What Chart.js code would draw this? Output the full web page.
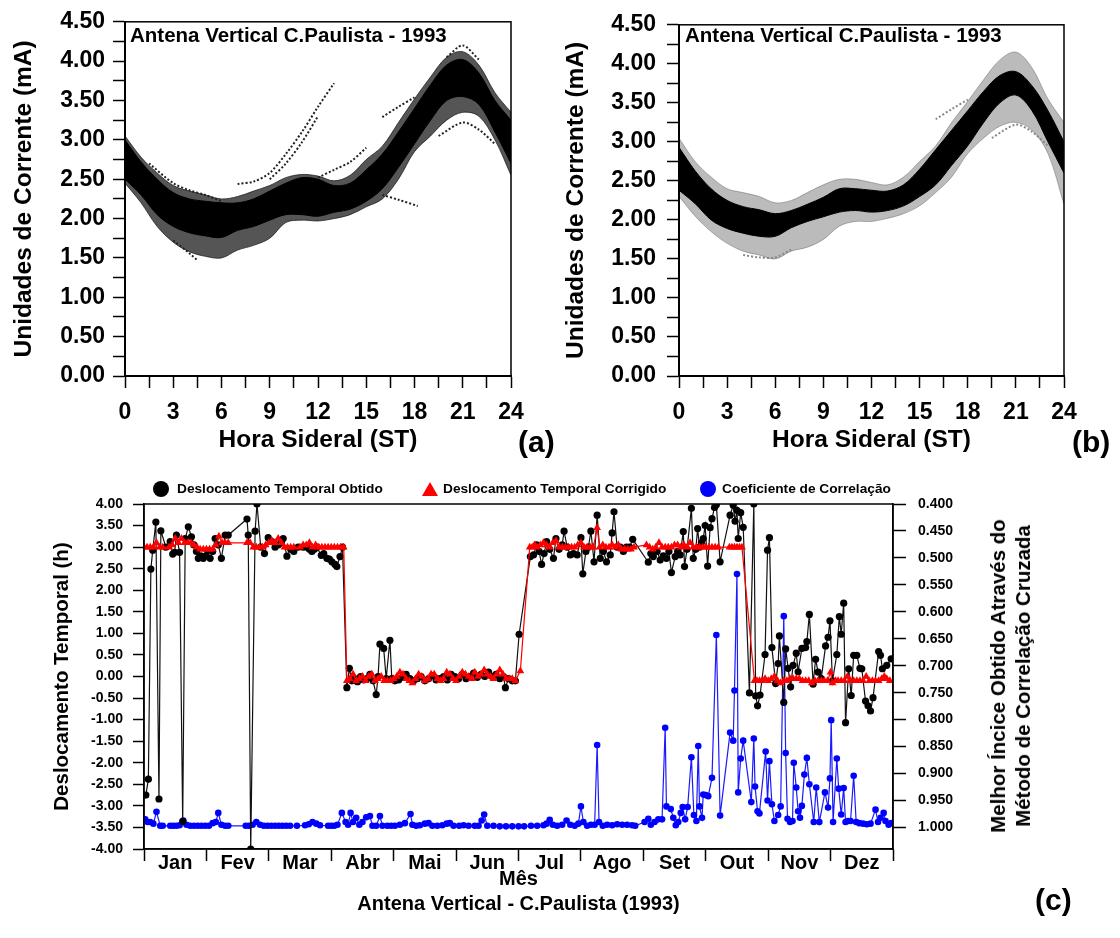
<!DOCTYPE html>
<html>
<head>
<meta charset="utf-8">
<title>Antena Vertical C.Paulista - 1993</title>
<script src="https://cdn.jsdelivr.net/npm/chart.js@4.4.0/dist/chart.umd.min.js"></script>
<style>
  body { margin: 0; background: #fff; }
  #page { position: relative; width: 1120px; height: 938px; overflow: hidden; font-family: "Liberation Sans", Arial, sans-serif; font-weight: bold; color: #000; }
  canvas { position: absolute; }
  .txt { position: absolute; white-space: nowrap; }
  .tag { font-size: 30px; }
  .inner { font-size: 20.5px; }
  .leg { font-size: 13.7px; line-height: 16px; }
  .dot { position: absolute; width: 16px; height: 16px; border-radius: 50%; }
  .tri { position: absolute; width: 0; height: 0; border-left: 8px solid transparent; border-right: 8px solid transparent; border-bottom: 14px solid #ff0000; }
  #rtitle { position: absolute; left: 1010px; top: 676px; transform: translate(-50%, -50%) rotate(-90deg); font-size: 20.5px; line-height: 25px; text-align: center; white-space: nowrap; }
</style>
</head>
<body>
<div id="page">
  <canvas id="chartA" width="560" height="470" style="left:0;top:0"></canvas>
  <canvas id="chartB" width="560" height="470" style="left:560px;top:0"></canvas>
  <canvas id="chartC" width="1120" height="468" style="left:0;top:470px"></canvas>

  <div class="txt inner" style="left:130px;top:23px">Antena Vertical C.Paulista - 1993</div>
  <div class="txt inner" style="left:685px;top:23px">Antena Vertical C.Paulista - 1993</div>
  <div class="txt tag" style="left:518px;top:425px">(a)</div>
  <div class="txt tag" style="left:1072px;top:425px">(b)</div>
  <div class="txt tag" style="left:1035px;top:883px">(c)</div>

  <div class="dot" style="left:153px;top:481px;background:#000"></div>
  <div class="txt leg" style="left:177px;top:481px">Deslocamento Temporal Obtido</div>
  <div class="tri" style="left:422px;top:482px"></div>
  <div class="txt leg" style="left:443px;top:481px">Deslocamento Temporal Corrigido</div>
  <div class="dot" style="left:700px;top:481px;background:#0000ff"></div>
  <div class="txt leg" style="left:722px;top:481px">Coeficiente de Correlação</div>

  <div id="rtitle">Melhor Íncice Obtido Através do<br>Método de Correlação Cruzada</div>
</div>

<script>
// ---------- panels (a) and (b): current vs sidereal hour ----------
var hours = [0,1,2,3,4,5,6,7,8,9,10,11,12,13,14,15,16,17,18,19,20,21,22,23,24];
var hourTicks = [0,1.5,3,4.5,6,7.5,9,10.5,12,13.5,15,16.5,18,19.5,21,22.5,24];
var currentTicks = [0,0.25,0.5,0.75,1,1.25,1.5,1.75,2,2.25,2.5,2.75,3,3.25,3.5,3.75,4,4.25,4.5];

// (a) dense band of daily curves: outer fringe and solid core
var aFringeUp  = [3.05,2.78,2.58,2.42,2.35,2.30,2.25,2.28,2.35,2.42,2.52,2.56,2.54,2.48,2.55,2.75,2.92,3.22,3.52,3.80,4.05,4.12,3.95,3.60,3.35];
var aFringeLow = [2.45,2.20,1.90,1.70,1.58,1.52,1.50,1.60,1.66,1.75,1.95,1.98,1.97,2.00,2.05,2.15,2.25,2.50,2.85,3.05,3.25,3.35,3.30,3.00,2.55];
var aCoreUp    = [3.00,2.72,2.50,2.33,2.25,2.22,2.20,2.20,2.25,2.35,2.45,2.52,2.50,2.42,2.45,2.62,2.82,3.10,3.40,3.70,3.95,4.02,3.85,3.50,3.25];
var aCoreLow   = [2.50,2.30,2.05,1.90,1.82,1.78,1.76,1.85,1.90,1.98,2.05,2.05,2.03,2.08,2.12,2.22,2.38,2.65,2.95,3.25,3.50,3.55,3.45,3.10,2.70];
// (a) separate day curves that leave the band
var aTrack1X = [7,8,9,10,11,12,13],       aTrack1Y = [2.44,2.47,2.58,2.82,3.10,3.42,3.72];
var aTrack2X = [9,10,11,12],              aTrack2Y = [2.50,2.70,2.97,3.30];
var aTrack3X = [16,17,18],                aTrack3Y = [3.29,3.42,3.54];
var aTrack4X = [16,17,18.2],              aTrack4Y = [2.30,2.24,2.16];
var aTrack5X = [12,13,14,15],             aTrack5Y = [2.52,2.62,2.72,2.90];
var aTrack6X = [19.5,21,22,23],           aTrack6Y = [3.05,3.22,3.13,2.95];
var aTrack7X = [20,21,22],                aTrack7Y = [4.05,4.20,4.02];
var aTrack8X = [3,4,4.5],                 aTrack8Y = [1.72,1.56,1.47];
var aTrack9X = [1.5,3,4,5,6],             aTrack9Y = [2.70,2.45,2.36,2.30,2.22];

// (b) corrected curves: black core and grey spread
var bFringeUp  = [3.05,2.75,2.55,2.40,2.35,2.30,2.22,2.25,2.35,2.45,2.52,2.52,2.48,2.45,2.55,2.75,2.95,3.25,3.52,3.80,4.05,4.15,3.95,3.55,3.25];
var bFringeLow = [2.30,2.05,1.85,1.70,1.60,1.55,1.50,1.60,1.65,1.75,1.92,1.98,1.98,2.02,2.08,2.18,2.35,2.55,2.85,3.05,3.20,3.25,3.15,2.85,2.20];
var bCoreUp    = [2.93,2.63,2.40,2.25,2.17,2.13,2.08,2.12,2.20,2.29,2.40,2.40,2.38,2.37,2.45,2.65,2.90,3.15,3.40,3.65,3.85,3.90,3.72,3.40,3.00];
var bCoreLow   = [2.38,2.21,2.00,1.89,1.83,1.79,1.79,1.90,1.98,2.04,2.10,2.12,2.10,2.12,2.18,2.30,2.45,2.70,2.95,3.25,3.50,3.60,3.40,3.00,2.60];
var bTrack1X = [16,17,18],    bTrack1Y = [3.29,3.42,3.54];
var bTrack2X = [19.5,21,22,23], bTrack2Y = [3.05,3.22,3.13,2.95];
var bTrack3X = [4,5,6,7],     bTrack3Y = [1.55,1.52,1.52,1.62];

// ---------- panel (c): monthly shift and correlation ----------
var months = ['Jan','Fev','Mar','Abr','Mai','Jun','Jul','Ago','Set','Out','Nov','Dez'];
var shiftTicks = [-4,-3.5,-3,-2.5,-2,-1.5,-1,-0.5,0,0.5,1,1.5,2,2.5,3,3.5,4];
var coefTicks = [0.4,0.45,0.5,0.55,0.6,0.65,0.7,0.75,0.8,0.85,0.9,0.95,1.0];

var obtMonth = [0.03,0.07,0.11,0.14,0.19,0.24,0.27,0.35,0.42,0.46,0.49,0.52,0.57,0.62,0.66,0.71,0.76,0.80,0.84,0.87,0.91,0.95,0.99,1.02,1.06,1.10,1.14,1.19,1.24,1.30,1.35,
  1.65,1.67,1.71,1.78,1.81,1.87,1.93,1.99,2.05,2.10,2.15,2.20,2.23,2.29,2.35,2.40,2.47,2.55,2.61,2.65,2.69,2.73,2.77,2.84,2.88,2.93,2.97,3.01,3.06,3.09,3.14,3.18,
  3.25,3.29,3.33,3.37,3.42,3.47,3.52,3.57,3.62,3.67,3.72,3.75,3.78,3.84,3.88,3.94,3.97,4.02,4.08,4.14,4.20,4.26,4.32,4.38,4.44,4.50,4.56,4.62,4.68,4.74,4.80,4.86,4.92,4.98,
  5.04,5.10,5.16,5.22,5.28,5.34,5.40,5.46,5.52,5.58,5.64,5.70,5.76,5.79,5.84,5.90,5.95,6.01,
  6.19,6.24,6.29,6.33,6.37,6.41,6.45,6.50,6.56,6.60,6.65,6.70,6.73,6.78,6.83,6.88,6.94,7.00,7.03,7.08,7.12,7.16,7.21,7.26,7.31,7.36,7.41,7.47,7.50,7.53,7.58,7.63,7.68,7.73,7.78,7.83,
  8.08,8.12,8.16,8.22,8.27,8.32,8.37,8.41,8.45,8.51,8.55,8.59,8.64,8.66,8.70,8.77,8.80,8.84,8.87,8.90,8.93,8.96,8.99,9.03,9.07,9.10,9.14,9.17,9.23,
  9.39,9.44,9.47,9.50,9.52,9.56,9.60,9.70,9.77,9.80,9.83,9.87,9.95,9.99,10.02,10.06,10.12,10.16,10.18,10.25,10.28,10.32,10.36,10.40,10.45,10.48,10.54,10.60,10.62,10.66,
  10.72,10.76,10.80,10.85,10.92,10.96,10.99,11.03,11.10,11.14,11.17,11.21,11.24,11.29,11.33,11.37,11.42,11.47,11.50,11.56,11.60,11.64,11.68,11.77,11.80,11.83,11.90,11.97];
var obtShift = [-2.75,-2.38,2.49,2.93,3.58,-2.84,3.38,3.00,3.13,2.84,2.88,3.28,2.88,-3.36,3.20,3.47,3.24,3.05,2.90,2.74,2.80,2.74,2.80,2.92,2.74,2.90,3.20,3.05,2.74,3.28,3.28,
  3.65,3.28,-4.00,3.37,4.00,3.00,2.85,3.22,3.13,3.00,3.05,3.10,3.20,2.79,2.95,2.90,3.00,3.00,3.00,2.95,2.90,2.95,3.00,2.81,2.85,2.74,2.72,2.66,2.60,2.55,2.78,3.00,
  -0.26,0.19,-0.10,-0.05,-0.12,0.00,-0.08,-0.05,0.05,-0.10,-0.42,0.00,0.75,0.65,-0.05,0.84,-0.05,-0.10,-0.08,-0.02,0.05,-0.05,-0.10,-0.05,0.00,-0.10,-0.05,0.02,-0.08,-0.05,0.00,-0.08,0.05,0.00,
  -0.05,0.05,-0.05,0.00,0.08,-0.02,0.05,0.00,0.10,0.00,0.05,-0.05,0.00,-0.26,-0.05,-0.10,-0.10,0.98,
  2.78,2.82,3.05,2.90,2.60,2.85,3.13,2.95,2.74,3.20,2.95,3.05,3.37,3.00,2.82,2.85,2.82,3.22,2.38,2.90,3.00,3.37,2.66,3.74,2.74,2.90,2.66,2.82,3.33,3.82,3.00,3.00,2.90,3.00,3.00,3.18,
  2.65,2.85,2.78,2.90,2.70,2.80,2.74,2.90,2.41,2.78,2.90,2.82,3.36,2.55,2.95,3.90,2.74,2.95,3.43,3.00,3.10,3.20,3.50,2.56,3.45,3.66,3.92,3.98,2.66,
  3.74,3.97,3.60,3.85,3.20,3.80,3.46,-0.38,4.00,-0.45,-0.68,-0.43,0.51,2.93,3.22,0.67,-0.16,0.30,0.94,-0.60,0.64,0.19,-0.24,0.26,0.54,0.11,0.65,0.67,0.81,1.44,
  -0.18,0.40,0.10,-0.05,0.71,0.91,1.29,-0.10,0.51,1.39,0.98,1.70,-1.07,0.18,-0.44,0.49,0.49,0.19,0.18,-0.57,-0.68,-0.80,-0.49,0.58,0.49,0.18,0.26,0.41];

var corMonth = [0.00,0.05,0.10,0.15,0.20,0.25,0.30,0.40,0.45,0.50,0.55,0.60,0.65,0.70,0.75,0.80,0.85,0.90,0.95,1.00,1.05,1.10,1.15,1.20,1.25,1.30,1.35,
  1.65,1.70,1.75,1.80,1.85,1.90,1.95,2.00,2.05,2.10,2.15,2.20,2.25,2.30,2.35,2.40,2.50,2.55,2.60,2.65,2.70,2.75,2.80,2.85,2.90,2.95,3.00,3.05,3.10,3.15,3.20,
  3.25,3.30,3.35,3.40,3.45,3.50,3.55,3.60,3.65,3.70,3.75,3.80,3.85,3.90,3.95,4.00,4.05,4.10,4.15,4.20,4.25,4.30,4.35,4.40,4.45,4.50,4.55,4.60,4.65,4.70,4.75,4.80,4.85,4.90,4.95,
  5.00,5.05,5.10,5.15,5.20,5.25,5.30,5.35,5.40,5.45,5.50,5.55,5.60,5.65,5.70,5.75,5.80,5.85,5.90,5.95,6.03,
  6.18,6.22,6.26,6.30,6.35,6.40,6.45,6.50,6.55,6.60,6.65,6.70,6.75,6.80,6.85,6.90,6.95,7.00,7.05,7.10,7.15,7.20,7.26,7.30,7.35,7.40,7.45,7.50,7.55,7.60,7.65,7.70,7.75,7.80,7.85,
  8.05,8.10,8.15,8.20,8.25,8.30,8.35,8.40,8.45,8.50,8.55,8.60,8.65,8.70,8.75,8.80,8.85,8.90,8.95,9.00,9.05,9.10,9.15,9.20,9.38,9.42,9.46,9.50,9.54,9.58,
  9.78,9.82,9.86,9.90,9.95,10.00,10.05,10.10,10.15,10.20,10.25,10.30,10.35,10.40,10.45,10.50,10.55,10.60,10.65,10.70,10.75,10.80,10.85,10.90,10.95,11.00,11.03,11.08,11.12,11.17,
  11.22,11.27,11.32,11.37,11.42,11.47,11.52,11.57,11.62,11.67,11.72,11.77,11.82,11.86,11.90,11.95];
var corShift = [3.00,3.00,3.00,3.00,3.10,3.00,3.00,3.00,3.05,3.20,3.10,3.20,3.10,3.10,3.10,3.05,3.00,2.95,2.95,2.95,2.95,2.95,3.05,3.25,3.10,3.10,3.10,
  3.10,3.10,3.00,3.00,3.00,3.00,3.05,3.10,3.15,3.10,3.20,3.10,3.00,3.00,3.00,3.00,3.00,3.05,3.05,3.10,3.00,3.05,3.00,3.00,3.00,3.00,3.00,3.00,3.00,3.00,3.00,
  -0.10,-0.05,0.05,-0.10,-0.05,0.00,-0.10,0.00,0.05,-0.10,-0.05,0.00,-0.10,-0.10,-0.10,-0.05,0.00,0.10,0.05,-0.05,-0.10,-0.15,-0.05,0.05,0.00,-0.10,-0.05,0.05,0.05,-0.05,-0.10,-0.05,0.10,0.05,-0.05,
  -0.10,0.00,0.10,0.05,0.00,-0.05,0.10,0.00,0.05,0.15,0.05,0.00,-0.05,0.05,0.15,0.05,-0.05,-0.05,-0.05,-0.10,0.13,
  3.00,3.00,3.05,3.00,3.05,3.10,3.05,3.00,3.10,3.15,3.00,3.00,3.00,3.00,3.00,3.00,3.05,3.10,3.00,3.00,3.00,3.00,3.45,3.00,3.05,3.00,3.00,3.05,3.00,3.05,2.95,2.95,2.95,2.95,3.00,
  3.05,3.00,2.95,3.00,3.10,3.00,3.00,3.00,3.00,3.05,3.05,3.00,3.05,3.00,3.10,3.00,3.00,3.00,3.00,3.00,3.00,3.00,3.00,3.00,3.00,3.00,3.00,3.00,3.00,3.00,
  -0.10,-0.10,-0.10,-0.10,-0.05,-0.10,-0.05,0.00,-0.10,-0.15,-0.10,-0.10,-0.05,-0.05,-0.05,-0.05,-0.10,-0.10,-0.10,-0.15,-0.10,-0.10,-0.10,-0.10,-0.10,0.10,-0.15,-0.10,-0.10,-0.10,
  -0.10,0.00,-0.10,-0.10,-0.10,-0.10,-0.10,0.00,-0.10,-0.10,-0.10,-0.10,-0.05,0.00,-0.05,-0.10];

var coefMonth = [0.02,0.06,0.10,0.15,0.20,0.26,0.30,0.42,0.47,0.52,0.57,0.63,0.68,0.74,0.80,0.86,0.92,0.98,1.04,1.10,1.15,1.19,1.24,1.30,1.35,
  1.63,1.68,1.74,1.80,1.86,1.92,1.98,2.04,2.10,2.16,2.22,2.28,2.34,2.45,2.58,2.64,2.70,2.76,2.82,2.95,3.00,3.05,3.10,3.17,3.23,3.27,3.31,3.35,3.40,3.45,3.50,3.56,3.62,3.66,3.72,3.78,3.82,
  3.90,3.96,4.02,4.10,4.18,4.27,4.30,4.36,4.42,4.50,4.56,4.62,4.70,4.78,4.85,4.90,4.96,5.05,5.12,5.20,5.30,5.36,5.41,5.45,5.50,5.60,5.70,5.80,5.90,6.00,6.09,
  6.20,6.30,6.40,6.45,6.50,6.55,6.62,6.70,6.77,6.83,6.90,6.96,7.00,7.04,7.10,7.16,7.22,7.26,7.29,7.35,7.42,7.50,7.58,7.66,7.74,7.82,7.87,
  8.02,8.08,8.12,8.18,8.24,8.30,8.35,8.37,8.44,8.48,8.52,8.56,8.60,8.63,8.67,8.71,8.77,8.81,8.85,8.88,8.90,8.94,8.96,9.00,9.04,9.10,9.17,9.23,
  9.39,9.44,9.46,9.50,9.52,9.56,9.60,9.73,9.77,9.79,9.83,9.86,9.96,9.99,10.02,10.06,10.10,10.16,10.20,10.25,10.28,10.31,10.35,10.39,10.41,10.45,10.48,10.51,10.54,10.58,10.62,10.66,
  10.73,10.77,10.82,10.91,10.96,10.99,11.01,11.04,11.10,11.13,11.17,11.21,11.24,11.28,11.32,11.37,11.41,11.46,11.52,11.58,11.64,11.72,11.76,11.80,11.85,11.88,11.93,11.97];
var coefValue = [0.985,0.990,0.990,0.993,0.971,0.997,0.997,0.997,0.997,0.997,0.996,0.987,0.995,0.997,0.997,0.997,0.997,0.997,0.997,0.992,0.990,0.973,0.995,0.997,0.997,
  0.997,0.997,0.995,0.990,0.995,0.997,0.997,0.997,0.997,0.997,0.997,0.997,0.997,0.997,0.996,0.994,0.990,0.993,0.996,0.997,0.997,0.997,0.995,0.973,0.990,0.995,0.973,0.990,0.982,0.995,0.990,0.981,0.979,0.997,0.997,0.979,0.997,
  0.997,0.997,0.997,0.995,0.992,0.975,0.995,0.997,0.996,0.993,0.992,0.997,0.997,0.996,0.993,0.992,0.997,0.997,0.996,0.997,0.997,0.997,0.987,0.976,0.997,0.997,0.998,0.998,0.998,0.998,0.998,
  0.997,0.997,0.996,0.993,0.986,0.995,0.997,0.995,0.987,0.995,0.997,0.993,0.961,0.990,0.997,0.995,0.995,0.847,0.990,0.997,0.995,0.996,0.994,0.995,0.995,0.996,0.997,
  0.990,0.984,0.995,0.990,0.985,0.985,0.815,0.961,0.966,0.982,0.996,0.990,0.973,0.962,0.985,0.962,0.870,0.977,0.988,0.849,0.961,0.982,0.939,0.940,0.942,0.908,0.643,0.978,
  0.824,0.839,0.746,0.530,0.935,0.872,0.839,0.953,0.835,0.924,0.970,0.974,0.859,0.950,0.877,0.957,0.988,0.977,0.961,0.608,0.862,0.984,0.990,0.988,0.880,0.926,0.970,0.982,0.960,0.902,0.871,0.920,
  0.990,0.926,0.990,0.935,0.963,0.909,0.801,0.990,0.872,0.928,0.976,0.927,0.990,0.988,0.988,0.904,0.990,0.992,0.993,0.994,0.993,0.967,0.990,0.982,0.973,0.988,0.995,0.992];

// ---------- helpers ----------
Chart.defaults.font.family = '"Liberation Sans", Arial, sans-serif';
Chart.defaults.font.weight = 'bold';
Chart.defaults.color = '#000';

var frame = {
  id: 'frame',
  afterDraw: function (chart) {
    var a = chart.chartArea, ctx = chart.ctx;
    ctx.save();
    ctx.strokeStyle = '#000';
    ctx.lineWidth = 1.5;
    ctx.strokeRect(a.left, a.top, a.right - a.left, a.bottom - a.top);
    ctx.restore();
  }
};

function pts(xs, ys) {
  return xs.map(function (x, i) { return { x: x, y: ys[i] }; });
}

function band(up, low, color, order) {
  return [
    { data: pts(hours, up), borderColor: color, backgroundColor: color, borderWidth: 1, pointRadius: 0, tension: 0.35, fill: '+1', order: order },
    { data: pts(hours, low), borderColor: color, borderWidth: 1, pointRadius: 0, tension: 0.35, fill: false, order: order }
  ];
}

function track(xs, ys, color) {
  return { data: pts(xs, ys), borderColor: color, borderWidth: 2, borderDash: [2, 2], pointRadius: 0, tension: 0.3, fill: false, order: 1 };
}

function hourChart(id, datasets, yWidth, padRight, tickPad, titlePad) {
  return new Chart(document.getElementById(id), {
    type: 'line',
    data: { datasets: datasets },
    options: {
      responsive: false,
      animation: false,
      events: [],
      layout: { padding: { top: 17, right: padRight, bottom: 0, left: 0 } },
      plugins: { legend: { display: false }, tooltip: { enabled: false } },
      scales: {
        x: {
          type: 'linear', min: 0, max: 24,
          afterBuildTicks: function (s) { s.ticks = hourTicks.map(function (v) { return { value: v }; }); },
          ticks: { autoSkip: false, maxRotation: 0, padding: 11, font: { size: 23 },
            callback: function (v) { return v % 3 === 0 ? String(v) : ''; } },
          grid: { drawOnChartArea: false, tickLength: 12, tickColor: '#000', tickWidth: 1.5 },
          border: { color: '#000', width: 2 },
          title: { display: true, text: 'Hora Sideral (ST)', font: { size: 24.5 }, padding: { top: 0, bottom: 15 } },
          afterFit: function (s) { s.height = 94; }
        },
        y: {
          min: 0, max: 4.5,
          afterBuildTicks: function (s) { s.ticks = currentTicks.map(function (v) { return { value: v }; }); },
          ticks: { autoSkip: false, padding: tickPad, font: { size: 23 },
            callback: function (v) { return Math.round(v * 4) % 2 === 0 ? v.toFixed(2) : ''; } },
          grid: { drawOnChartArea: false, tickLength: 12, tickColor: '#000', tickWidth: 1.5 },
          border: { color: '#000', width: 2 },
          title: { display: true, text: 'Unidades de Corrente (mA)', font: { size: 24.5 }, padding: { top: titlePad, bottom: 0 } },
          afterFit: function (s) { s.width = yWidth; }
        }
      }
    },
    plugins: [frame]
  });
}

// (a)
var dsA = [].concat(
  band(aFringeUp, aFringeLow, 'rgba(20,20,20,0.72)', 3),
  band(aCoreUp, aCoreLow, '#000', 2),
  [track(aTrack1X, aTrack1Y, '#222'), track(aTrack2X, aTrack2Y, '#222'), track(aTrack3X, aTrack3Y, '#222'),
   track(aTrack4X, aTrack4Y, '#222'), track(aTrack5X, aTrack5Y, '#222'), track(aTrack6X, aTrack6Y, '#222'),
   track(aTrack7X, aTrack7Y, '#222'), track(aTrack8X, aTrack8Y, '#222'), track(aTrack9X, aTrack9Y, '#222')]
);
hourChart('chartA', dsA, 125, 49, 8, 10);

// (b)
var dsB = [].concat(
  band(bFringeUp, bFringeLow, 'rgba(60,60,60,0.35)', 3),
  band(bCoreUp, bCoreLow, '#000', 2),
  [track(bTrack1X, bTrack1Y, '#888'), track(bTrack2X, bTrack2Y, '#888'), track(bTrack3X, bTrack3Y, '#888')]
);
hourChart('chartB', dsB, 119, 56, 11, 2);

// (c)
new Chart(document.getElementById('chartC'), {
  type: 'line',
  data: {
    datasets: [
      { label: 'Deslocamento Temporal Corrigido', data: pts(corMonth, corShift), yAxisID: 'y',
        borderColor: '#ff0000', borderWidth: 1.2, pointStyle: 'triangle', pointRadius: 4.5,
        pointBackgroundColor: '#ff0000', pointBorderColor: '#ff0000', pointBorderWidth: 0, order: 0 },
      { label: 'Deslocamento Temporal Obtido', data: pts(obtMonth, obtShift), yAxisID: 'y',
        borderColor: '#111', borderWidth: 1.2, pointRadius: 3.6,
        pointBackgroundColor: '#000', pointBorderColor: '#000', pointBorderWidth: 0, order: 1 },
      { label: 'Coeficiente de Correlação', data: pts(coefMonth, coefValue), yAxisID: 'y2',
        borderColor: '#1a1aff', borderWidth: 1.2, pointRadius: 3.3,
        pointBackgroundColor: '#0000ff', pointBorderColor: '#0000ff', pointBorderWidth: 0, order: 2 }
    ]
  },
  options: {
    responsive: false,
    animation: false,
    events: [],
    layout: { padding: { top: 34, right: 0, bottom: 0, left: 0 } },
    plugins: { legend: { display: false }, tooltip: { enabled: false } },
    scales: {
      x: {
        type: 'linear', min: 0, max: 12,
        afterBuildTicks: function (s) {
          var t = [];
          for (var i = 0; i <= 24; i++) t.push({ value: i / 2 });
          s.ticks = t;
        },
        ticks: { autoSkip: false, maxRotation: 0, padding: -10, font: { size: 20 },
          callback: function (v) { return Number.isInteger(v) ? '' : months[Math.floor(v)]; } },
        grid: { drawOnChartArea: false, tickLength: 12, tickWidth: 1.5,
          tickColor: function (c) { return (c.tick && Number.isInteger(c.tick.value)) ? '#000' : 'rgba(0,0,0,0)'; } },
        border: { color: '#000', width: 1.5 },
        title: { display: true, text: ['Mês', 'Antena Vertical - C.Paulista (1993)'], font: { size: 20, lineHeight: 1.25 }, padding: { top: 0, bottom: 21 } },
        afterFit: function (s) { s.height = 89; }
      },
      y: {
        position: 'left', min: -4, max: 4,
        afterBuildTicks: function (s) { s.ticks = shiftTicks.map(function (v) { return { value: v }; }); },
        ticks: { autoSkip: false, padding: 10, font: { size: 14 },
          callback: function (v) { return v.toFixed(2); } },
        grid: { drawOnChartArea: false, tickLength: 11, tickColor: '#000', tickWidth: 1.5 },
        border: { color: '#000', width: 1.5 },
        title: { display: true, text: 'Deslocamento Temporal (h)', font: { size: 20.5 }, padding: { top: 50, bottom: 0 } },
        afterFit: function (s) { s.width = 144; }
      },
      y2: {
        position: 'right', reverse: true, min: 0.4, max: 1.04,
        afterBuildTicks: function (s) { s.ticks = coefTicks.map(function (v) { return { value: v }; }); },
        ticks: { autoSkip: false, padding: 12, font: { size: 14 },
          callback: function (v) { return v.toFixed(3); } },
        grid: { drawOnChartArea: false, tickLength: 13, tickColor: '#000', tickWidth: 1.5 },
        border: { color: '#000', width: 1.5 },
        afterFit: function (s) { s.width = 227; }
      }
    }
  },
  plugins: [frame]
});
</script>
</body>
</html>
